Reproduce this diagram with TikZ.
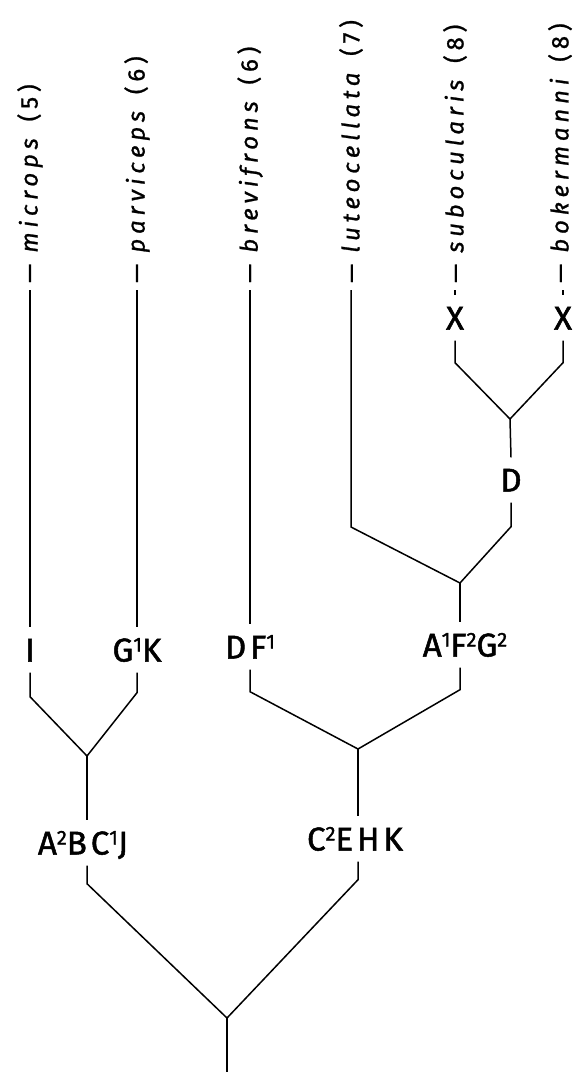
\documentclass[tikz,border=0pt]{standalone}
\usepackage{fontspec}
\setmainfont{Fira Sans}
\newfontfamily\tipfont[LetterSpace=20, FakeBold=1]{Fira Sans}
\newfontfamily\charfont[LetterSpace=12, FakeBold=1.5]{Fira Sans}
\usetikzlibrary{positioning,calc}

% raised state index after a character letter
\newcommand{\chup}[1]{\raisebox{10pt}{\fontsize{20}{20}\selectfont #1}}
% taxon name and number of species
\newcommand{\taxname}[2]{— \textit{#1}\hspace{0.5em}(#2)}

\tikzset{
  branch/.style={line width=1.5pt, line join=miter},
  taxon/.style={rotate=90, anchor=west, inner xsep=7pt, inner ysep=0pt,
    font={\tipfont\fontsize{24}{28}\selectfont}},
  charset/.style={inner xsep=0pt, inner ysep=11pt, text height=23pt, text depth=0pt,
    font={\charfont\fontsize{33}{36}\selectfont}},
}

\begin{document}
\begin{tikzpicture}[x=1pt, y=-1pt]
    \useasboundingbox (0,0) rectangle (575,1072);

    % Taxa
    \node[taxon] (mi) at (30,290) {\taxname{microps}{5}};
    \node[taxon] (pa) at (137,290) {\taxname{parviceps}{6}};
    \node[taxon] (br) at (250,290) {\taxname{brevifrons}{6}};
    \node[taxon] (lu) at (351,290) {\taxname{luteocellata}{7}};
    \node[taxon] (su) at (455,290) {\taxname{subocularis}{8}};
    \node[taxon] (bo) at (560,290) {\taxname{bokermanni}{8}};

    % Character states
    \node[charset] (cXs) at (455,318) {X};
    \node[charset] (cXb) at (563,318) {X};
    \node[charset] (cD) at (511,480) {D};
    \node[charset] (cI) at (30,650) {I};
    \node[charset] (cGK) at (137,650) {G\chup{1}K};
    \node[charset] (cDF) at (250,647) {DF\chup{1}};
    \node[charset] (cAFG) at (465,645) {A\chup{1}F\chup{2}G\chup{2}};
    \node[charset] (cABCJ) at (83,843) {A\chup{2}BC\chup{1}J};
    \node[charset] (cCEHK) at (355,839) {C\chup{2}EHK};

    % Forks
    \coordinate (jSB) at (510,419);
    \coordinate (jLD) at (460,583);
    \coordinate (jIG) at (87,756);
    \coordinate (jDA) at (358,749);
    \coordinate (root) at (227,1018);
    \coordinate (stem) at (227,1072);

    % Terminal branches
    \draw[branch] (mi.west) -- (cI.north);
    \draw[branch] (pa.west) -- (cGK.north);
    \draw[branch] (br.west) -- (cDF.north);
    \draw[branch] (su.west) -- (cXs.north);
    \draw[branch] (cXb.north |- bo.west) -- (cXb.north);
    \draw[branch] (lu.west) -- ++(0,237) -- (jLD);

    % subocularis + bokermanni
    \draw[branch] (cXs.south) -- ++(0,22) -- (jSB);
    \draw[branch] (cXb.south) -- ++(0,22) -- (jSB);
    \draw[branch] (jSB) -- (cD.north);
    \draw[branch] (cD.south) -- ++(0,24) -- (jLD);
    \draw[branch] (jLD) -- (jLD |- cAFG.north);

    % microps + parviceps
    \draw[branch] (cI.south) -- ++(0,24) -- (jIG);
    \draw[branch] (cGK.south) -- ++(0,20) -- (jIG);
    \draw[branch] (jIG) -- (jIG |- cABCJ.north);

    % brevifrons + the rest
    \draw[branch] (cDF.south) -- ++(0,22) -- (jDA);
    \draw[branch] (cAFG.south -| jLD) -- ++(0,22) -- (jDA);
    \draw[branch] (jDA) -- (jDA |- cCEHK.north);

    % Root
    \draw[branch] (cABCJ.south -| jIG) -- ++(0,18) -- (root);
    \draw[branch] (cCEHK.south -| jDA) -- ++(0,18) -- (root);
    \draw[branch] (root) -- (stem);
\end{tikzpicture}
\end{document}
